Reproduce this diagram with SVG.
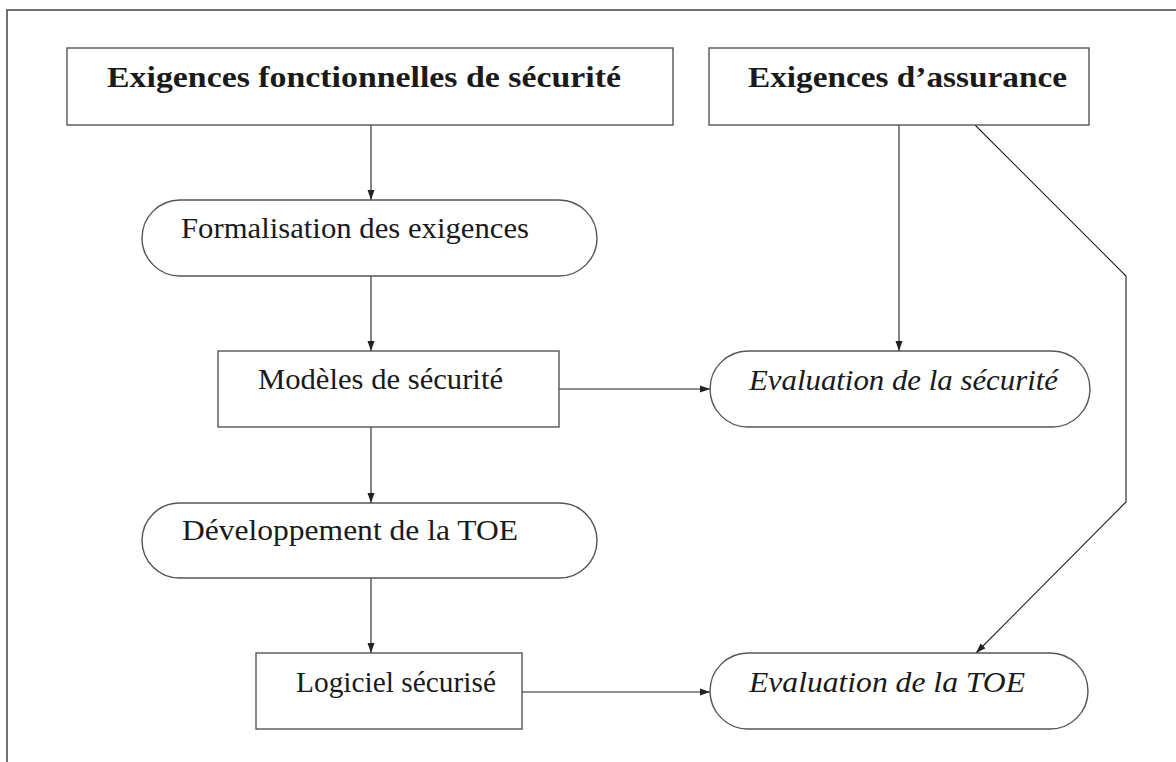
<svg xmlns="http://www.w3.org/2000/svg" width="1176" height="762" viewBox="0 0 1176 762">
<defs>
<style>
.frame{fill:none;stroke:#444;stroke-width:1.5}
.box{fill:#fff;stroke:#555;stroke-width:1.4}
.edge{fill:none;stroke:#222;stroke-width:1.1}
.t{font-family:"Liberation Serif","DejaVu Serif",serif;font-size:30px;fill:#1a1a1a}
.b{font-weight:bold;font-size:30px}
.i{font-style:italic}
</style>
<marker id="ah" viewBox="0 0 10 10" refX="10" refY="5" markerWidth="10" markerHeight="10" markerUnits="userSpaceOnUse" orient="auto">
<path d="M0,1.5 L10,5 L0,8.5 Z" fill="#222"/>
</marker>
</defs>
<rect width="1176" height="762" fill="#fff"/>
<path class="frame" d="M7,762 L7,10 L1176,10"/>
<g id="connectors">
<line class="edge" x1="371" y1="125" x2="371" y2="200" marker-end="url(#ah)"/>
<line class="edge" x1="371" y1="276" x2="371" y2="351" marker-end="url(#ah)"/>
<line class="edge" x1="371" y1="427" x2="371" y2="503" marker-end="url(#ah)"/>
<line class="edge" x1="371" y1="578" x2="371" y2="653" marker-end="url(#ah)"/>
<line class="edge" x1="899" y1="125" x2="899" y2="351" marker-end="url(#ah)"/>
<line class="edge" x1="559" y1="389" x2="710" y2="389" marker-end="url(#ah)"/>
<line class="edge" x1="522" y1="692" x2="710" y2="692" marker-end="url(#ah)"/>
<path class="edge" d="M975,125 L1126,276 L1126,502 L976,653" marker-end="url(#ah)"/>
</g>
<g id="n1">
<rect class="box" x="67" y="48" width="606" height="77"/>
<text class="t b" x="107" y="87" textLength="514" lengthAdjust="spacingAndGlyphs">Exigences fonctionnelles de sécurité</text>
</g>
<g id="n2">
<rect class="box" x="709" y="48" width="380" height="77"/>
<text class="t b" x="748" y="87" textLength="319" lengthAdjust="spacingAndGlyphs">Exigences d’assurance</text>
</g>
<g id="n3">
<rect class="box" x="142" y="200" width="455" height="76" rx="38" ry="38"/>
<text class="t" x="181" y="238" textLength="348" lengthAdjust="spacingAndGlyphs">Formalisation des exigences</text>
</g>
<g id="n4">
<rect class="box" x="218" y="351" width="341" height="76"/>
<text class="t" x="258" y="389" textLength="245" lengthAdjust="spacingAndGlyphs">Modèles de sécurité</text>
</g>
<g id="n5">
<rect class="box" x="710" y="351" width="380" height="76" rx="38" ry="38"/>
<text class="t i" x="749" y="390" textLength="309" lengthAdjust="spacingAndGlyphs">Evaluation de la sécurité</text>
</g>
<g id="n6">
<rect class="box" x="142" y="503" width="455" height="75" rx="37.5" ry="37.5"/>
<text class="t" x="182" y="540" textLength="336" lengthAdjust="spacingAndGlyphs">Développement de la TOE</text>
</g>
<g id="n7">
<rect class="box" x="256" y="653" width="266" height="76"/>
<text class="t" x="296" y="692" textLength="200" lengthAdjust="spacingAndGlyphs">Logiciel sécurisé</text>
</g>
<g id="n8">
<rect class="box" x="710" y="653" width="378" height="76" rx="38" ry="38"/>
<text class="t i" x="749" y="692" textLength="276" lengthAdjust="spacingAndGlyphs">Evaluation de la TOE</text>
</g>
</svg>
